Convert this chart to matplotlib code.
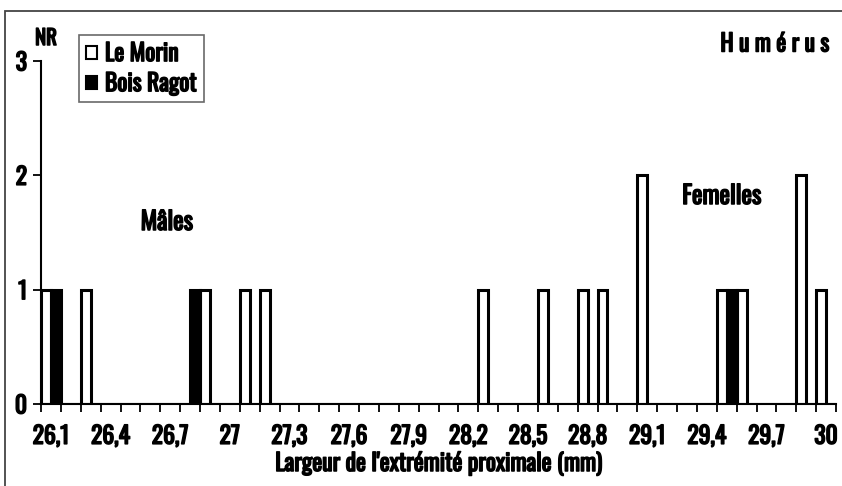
import numpy as np
import matplotlib
matplotlib.use("Agg")
import matplotlib.pyplot as plt
import matplotlib.patheffects as pe
from matplotlib.patches import Rectangle

plt.rcParams['font.family'] = ['Oswald', 'IBM Plex Sans Condensed', 'DejaVu Sans']
plt.rcParams['font.weight'] = 'bold'

# categories 26,1 ... 30,0 (mm)
categories = [round(26.1 + 0.1 * i, 1) for i in range(40)]
tick_labels = ["26,1", "26,4", "26,7", "27", "27,3", "27,6", "27,9",
               "28,2", "28,5", "28,8", "29,1", "29,4", "29,7", "30"]
morin_vals = {26.1: 1, 26.3: 1, 26.9: 1, 27.1: 1, 27.2: 1, 28.3: 1, 28.6: 1,
              28.8: 1, 28.9: 1, 29.1: 2, 29.5: 1, 29.6: 1, 29.9: 2, 30.0: 1}
ragot_vals = {26.1: 1, 26.8: 1, 29.5: 1}

le_morin = [morin_vals.get(c, 0) for c in categories]
bois_ragot = [ragot_vals.get(c, 0) for c in categories]

bold = [pe.withStroke(linewidth=1.1, foreground='black')]

W, H = 842, 486
fig = plt.figure(figsize=(W / 100, H / 100), dpi=100)
ax = fig.add_axes([41 / W, (H - 404) / H, (836 - 41) / W, (404 - 61) / H])

x = np.arange(len(categories))
ax.bar(x + 0.25, le_morin, width=0.5, color='white', edgecolor='black',
       linewidth=2.2, label='Le Morin', zorder=2)
ax.bar(x + 0.75, bois_ragot, width=0.5, color='black', edgecolor='black',
       linewidth=2.2, label='Bois Ragot', zorder=2)

ax.set_xlim(0, len(categories))
ax.set_ylim(0, 3)
ax.set_xticks(np.arange(0, len(categories) + 1), minor=False)
ax.set_xticklabels([])
ax.set_xticks(np.arange(0, len(categories), 3) + 0.5, minor=True)
ax.set_xticklabels(tick_labels, minor=True, fontsize=17)
ax.tick_params(axis='x', which='major', length=6, width=1.3, direction='out')
ax.tick_params(axis='x', which='minor', length=0, pad=15)
ax.set_yticks([0, 1, 2, 3])
ax.set_yticklabels(['0', '1', '2', '3'], fontsize=17)
ax.tick_params(axis='y', length=6, width=1.3, direction='out', pad=4)
for t in ax.get_xticklabels(minor=True) + ax.get_yticklabels():
    t.set_path_effects(bold)

for s in ['top', 'right']:
    ax.spines[s].set_visible(False)
for s in ['left', 'bottom']:
    ax.spines[s].set_linewidth(1.5)

ax.set_xlabel("Largeur de l'extrémité proximale (mm)", fontsize=17,
              path_effects=bold)
ax.xaxis.set_label_coords(0.5, (404 - 452) / 343)

fig.text(46 / W, 1 - 38 / H, 'NR', fontsize=15, ha='center', va='center',
         path_effects=bold)
fig.text(829 / W, 1 - 44 / H, 'H u m é r u s', fontsize=17, ha='right',
         va='center', path_effects=bold)
fig.text(167 / W, 1 - 222 / H, 'Mâles', fontsize=18, ha='center',
         va='center', path_effects=bold)
fig.text(722 / W, 1 - 196 / H, 'Femelles', fontsize=18, ha='center',
         va='center', path_effects=bold)

leg = ax.legend(loc='upper left', bbox_to_anchor=(79 / W, 1 - 35 / H),
                bbox_transform=fig.transFigure, fontsize=17, frameon=True,
                fancybox=False, edgecolor='#444444', handlelength=0.45,
                handleheight=0.45, handletextpad=0.35, borderpad=0.3,
                labelspacing=0.3, borderaxespad=0)
leg.get_frame().set_linewidth(1.2)
for h in leg.legend_handles:
    h.set_linewidth(1.5)
for t in leg.get_texts():
    t.set_path_effects(bold)

fig.patches.append(Rectangle((4.5 / W, -0.1), 2, 1 - 11 / H + 0.1,
                             transform=fig.transFigure, fill=False,
                             edgecolor='#444444', linewidth=1.3))

fig.savefig('out.png', dpi=100)
